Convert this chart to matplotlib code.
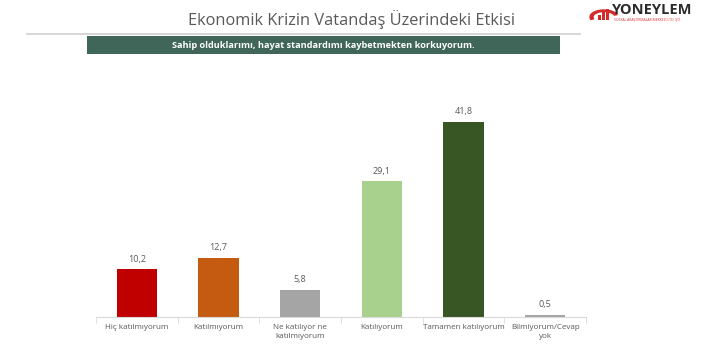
import matplotlib.pyplot as plt
from matplotlib.patches import Rectangle, Wedge

categories = ["Hiç katılmıyorum", "Katılmıyorum", "Ne katılıyor ne\nkatılmıyorum",
              "Katılıyorum", "Tamamen katılıyorum", "Bilmiyorum/Cevap\nyok"]
values = [10.2, 12.7, 5.8, 29.1, 41.8, 0.5]
colors = ["#C00000", "#C55A11", "#A5A5A5", "#A9D18E", "#375623", "#A5A5A5"]

title = "Ekonomik Krizin Vatandaş Üzerindeki Etkisi"
subtitle = "Sahip olduklarımı, hayat standardımı kaybetmekten korkuyorum."

plt.rcParams["font.family"] = ["Open Sans", "DejaVu Sans"]
txt = "#595959"

fig = plt.figure(figsize=(7.02, 3.51), dpi=100)
W, H = 702, 351

# title, rule and banner
fig.text(351 / W, 1 - 20 / H, title, ha="center", va="center", fontsize=11.8, color=txt)
fig.add_artist(plt.Line2D([27 / W, 580 / W], [1 - 34 / H] * 2, color="#D0D0D0", lw=1.2))
fig.add_artist(Rectangle((87 / W, 1 - 54 / H), (560 - 87) / W, 18 / H,
                         transform=fig.transFigure, color="#3F6659", lw=0))
fig.text(323 / W, 1 - 45 / H, subtitle, ha="center", va="center", fontsize=6.6,
         color="white", fontweight="bold")

# logo
fig.add_artist(Wedge((604 / W, 1 - 17 / H), 14 / W, 20, 200, width=3 / W,
                     transform=fig.transFigure, color="#D42A2A"))
for i, h in enumerate([5, 8, 11]):
    fig.add_artist(Rectangle(((598 + i * 4) / W, 1 - 20 / H), 2.5 / W, h / H,
                             transform=fig.transFigure, color="#D42A2A", lw=0))
fig.text(612 / W, 1 - 10 / H, "YONEYLEM", ha="left", va="center", fontsize=10.5,
         fontweight="bold", color="#2B2B2B")
fig.text(614 / W, 1 - 20 / H, "SOSYAL ARAŞTIRMALAR MERKEZİ LTD. ŞTİ.", ha="left",
         va="center", fontsize=2.4, color="#D42A2A")

ax = fig.add_axes([96 / W, 34 / H, 490 / W, 210 / H])
x = list(range(len(values)))
bars = ax.bar(x, values, width=0.49, color=colors)
for b, v in zip(bars, values):
    ax.text(b.get_x() + b.get_width() / 2, v + 1.2, f"{v:.1f}".replace(".", ","),
            ha="center", va="bottom", fontsize=6.5, color=txt)

ax.set_xlim(-0.5, len(values) - 0.5)
ax.set_ylim(0, 45)
ax.set_yticks([])
ax.set_xticks(x)
ax.set_xticklabels(categories, fontsize=5.8, color=txt, linespacing=1.5)
ax.tick_params(axis="x", length=0, pad=5)
ax.set_xticks([i - 0.5 for i in range(len(values) + 1)], minor=True)
ax.tick_params(axis="x", which="minor", length=4, color="#D9D9D9")
for s in ["top", "right", "left"]:
    ax.spines[s].set_visible(False)
ax.spines["bottom"].set_color("#D9D9D9")

fig.savefig("out.png", dpi=100)
